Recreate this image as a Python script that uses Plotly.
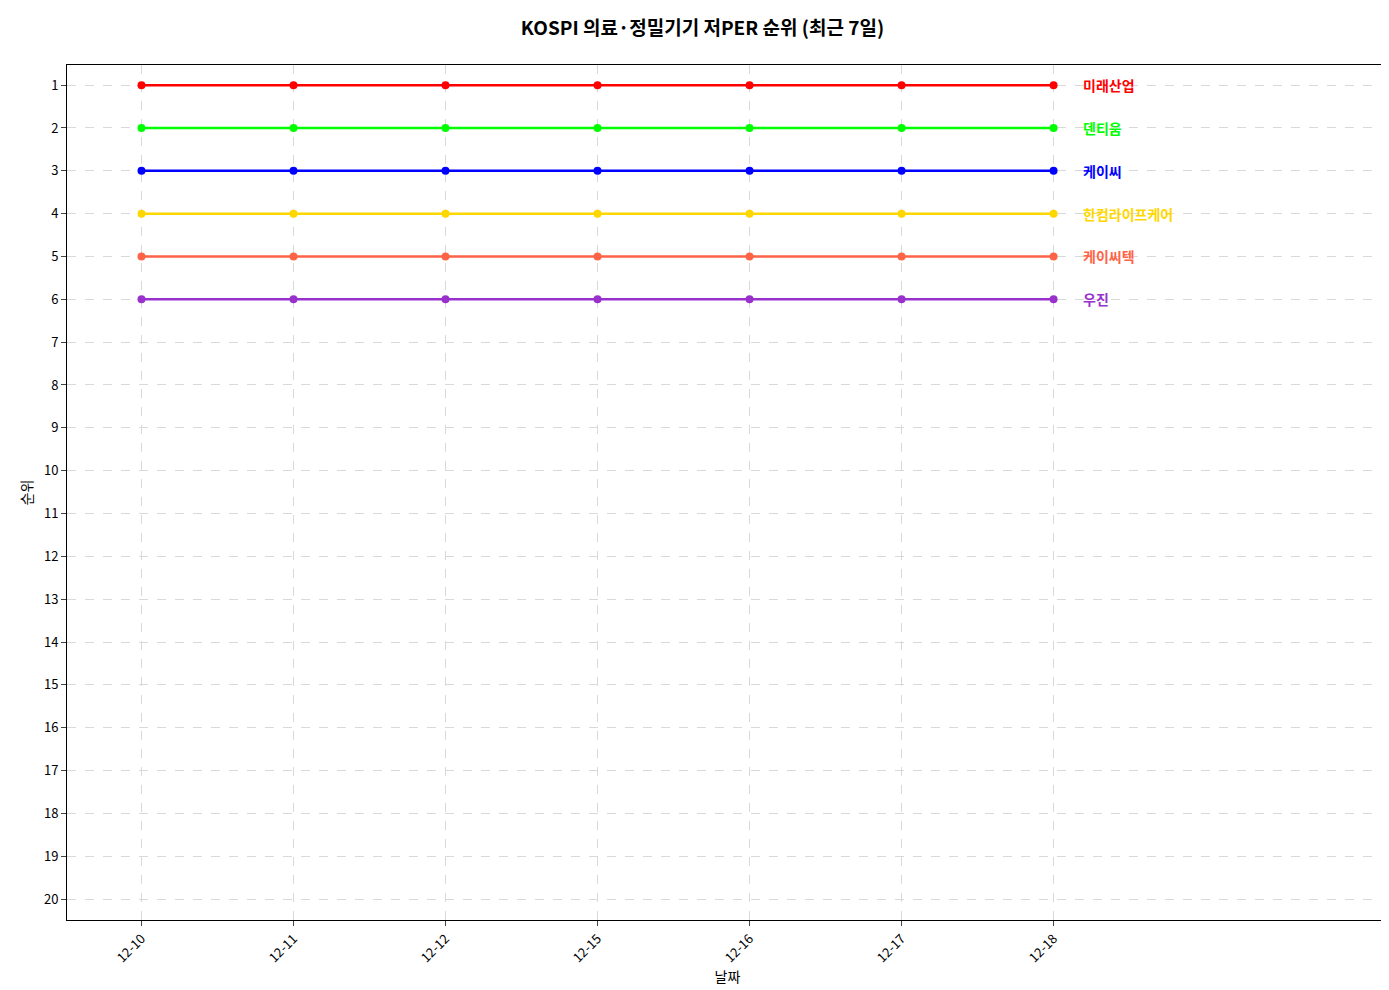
import plotly.graph_objects as go

dates = ["12-10", "12-11", "12-12", "12-15", "12-16", "12-17", "12-18"]
names = ["미래산업", "덴티움", "케이씨", "한컴라이프케어", "케이씨텍", "우진"]
ranks = [
    [1, 1, 1, 1, 1, 1, 1],
    [2, 2, 2, 2, 2, 2, 2],
    [3, 3, 3, 3, 3, 3, 3],
    [4, 4, 4, 4, 4, 4, 4],
    [5, 5, 5, 5, 5, 5, 5],
    [6, 6, 6, 6, 6, 6, 6],
]
colors = ["#ff0000", "#00ff00", "#0000ff", "#ffd700", "#ff6347", "#9932cc"]
yticks = list(range(1, 21))

FONT = "Noto Sans CJK KR"
xs = list(range(len(dates)))
fig = go.Figure()
for n, r, c in zip(names, ranks, colors):
    fig.add_trace(go.Scatter(x=xs, y=r, mode="lines+markers", name=n,
                             line=dict(color=c, width=2.5), marker=dict(color=c, size=8)))
    fig.add_annotation(x=6.18, y=r[-1], text=f"<b>{n}</b>", showarrow=False,
                       xanchor="left", yanchor="middle", font=dict(color=c, size=14, family=FONT))

fig.update_layout(
    width=1389, height=990, showlegend=False,
    plot_bgcolor="white", paper_bgcolor="white",
    margin=dict(l=59, r=9, t=57, b=78, autoexpand=False),
    font=dict(family=FONT, size=13, color="black"),
    title=dict(text="<b>KOSPI 의료·정밀기기 저PER 순위 (최근 7일)</b>", x=0.5, y=0.979,
               xanchor="center", yanchor="middle", font=dict(size=19), automargin=False),
)
fig.update_xaxes(range=[-0.49, 8.2], tickvals=xs, ticktext=dates, tickangle=-45,
                 showgrid=True, gridcolor="#d9d9d9", griddash="dash", automargin=False,
                 showline=True, linecolor="black", mirror=True, ticks="outside",
                 zeroline=False, title=dict(text="날짜", font=dict(size=14), standoff=6))
fig.update_yaxes(range=[20.49, 0.53], tickvals=yticks, automargin=False,
                 showgrid=True, gridcolor="#d9d9d9", griddash="dash",
                 showline=True, linecolor="black", mirror=True, ticks="outside",
                 zeroline=False, title=dict(text="순위", font=dict(size=14), standoff=8))
fig.write_html("out.html")
